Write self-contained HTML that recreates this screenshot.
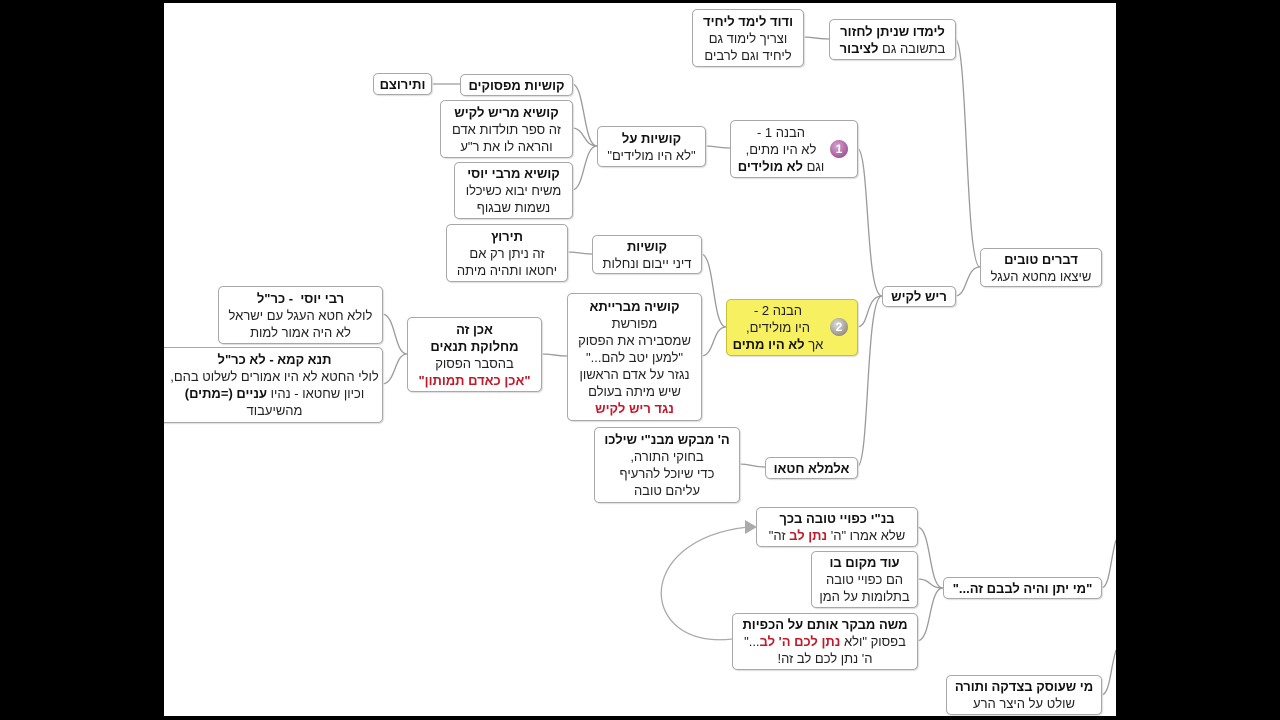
<!DOCTYPE html>
<html><head><meta charset="utf-8"><style>
body{margin:0;width:1280px;height:720px;background:#000;overflow:hidden;position:relative;font-family:"Liberation Sans","DejaVu Sans",sans-serif;}
#c{position:absolute;left:164px;top:3px;width:952px;height:713px;background:#fff;overflow:hidden}
.b{position:absolute;box-sizing:border-box;border:1.5px solid #a8a8a8;border-radius:5px;background:#fff;direction:rtl;text-align:center;font-size:13px;line-height:17px;color:#222;display:flex;flex-direction:column;justify-content:center;box-shadow:1px 1px 1px #ddd;white-space:nowrap}
b{font-weight:bold;color:#111}
.r{color:#c0192a;font-weight:bold}
svg{position:absolute;left:0;top:0}
.num{position:absolute;width:18px;height:18px;border-radius:50%;color:#fff;font-size:12px;font-weight:bold;line-height:18px;text-align:center}
</style></head><body>
<div id="c">
<svg width="952" height="713" viewBox="164 3 952 713" fill="none" stroke="#9a9a9a" stroke-width="1.3">
<path d="M980 267 C965 267 968 39 955 39"/>
<path d="M980 267 C965 267 968 296 955 296"/>
<path d="M829 39 C815 39 815 37 803 37"/>
<path d="M882 296 C865 296 870 148 857 148"/>
<path d="M882 296 C865 296 870 327 857 327"/>
<path d="M882 296 C865 296 870 467 857 467"/>
<path d="M730 148 C717 148 717 146 705 146"/>
<path d="M597 146 C583 146 585 84 572 84"/>
<path d="M597 146 C583 146 585 128 572 128"/>
<path d="M597 146 C583 146 585 190 572 190"/>
<path d="M460 84 L431 84"/>
<path d="M726 327 C712 327 715 254 701 254"/>
<path d="M726 327 C712 327 715 356 701 356"/>
<path d="M592 254 C580 254 580 252 567 252"/>
<path d="M567 356 C555 356 555 354 541 354"/>
<path d="M407 354 C394 354 396 314 382 314"/>
<path d="M407 354 C394 354 396 384 382 384"/>
<path d="M765 467 C752 467 752 464 739 464"/>
<path d="M943 588 C928 588 932 527 917 527"/>
<path d="M943 588 C928 588 932 579 917 579"/>
<path d="M943 588 C928 588 932 641 917 641"/>
<path d="M1101 588 C1110 588 1110 560 1116 540"/>
<path d="M1101 695 C1110 695 1110 670 1116 650"/>
<path d="M732 639 C640 650 630 540 748 527" stroke="#aaa"/>
<path d="M757 527 L745 520 L745 534 Z" fill="#aaa" stroke="none"/>
</svg>

<div class="b" style="left:528px;top:6px;width:112px;height:58px"><b>ודוד לימד ליחיד</b><span>וצריך לימוד גם</span><span>ליחיד וגם לרבים</span></div>
<div class="b" style="left:665px;top:16px;width:127px;height:41px"><b>לימדו שניתן לחזור</b><span>בתשובה גם <b>לציבור</b></span></div>
<div class="b" style="left:816px;top:245px;width:122px;height:39px"><b>דברים טובים</b><span>שיצאו מחטא העגל</span></div>
<div class="b" style="left:718px;top:283px;width:74px;height:21px"><b>ריש לקיש</b></div>
<div class="b" style="left:566px;top:117px;width:128px;height:58px;padding-right:26px"><span>הבנה 1 -</span><span>לא היו מתים,</span><span>וגם <b>לא מולידים</b></span></div>
<div class="num" style="left:666px;top:137px;background:radial-gradient(circle at 40% 35%,#d9a3d0,#8a3c82)">1</div>
<div class="b" style="left:433px;top:123px;width:109px;height:41px"><b>קושיות על</b><span>"לא היו מולידים"</span></div>
<div class="b" style="left:296px;top:71px;width:113px;height:22px"><b>קושיות מפסוקים</b></div>
<div class="b" style="left:209px;top:70px;width:59px;height:22px"><b>ותירוצם</b></div>
<div class="b" style="left:276px;top:97px;width:133px;height:58px"><b>קושיא מריש לקיש</b><span>זה ספר תולדות אדם</span><span>והראה לו את ר"ע</span></div>
<div class="b" style="left:290px;top:159px;width:119px;height:57px"><b>קושיא מרבי יוסי</b><span>משיח יבוא כשיכלו</span><span>נשמות שבגוף</span></div>
<div class="b" style="left:282px;top:221px;width:122px;height:58px"><b>תירוץ</b><span>זה ניתן רק אם</span><span>יחטאו ותהיה מיתה</span></div>
<div class="b" style="left:428px;top:232px;width:110px;height:39px"><b>קושיות</b><span>דיני ייבום ונחלות</span></div>
<div class="b" style="left:562px;top:296px;width:132px;height:57px;background:#f7f060;border-color:#c8be3a;padding-right:28px"><span>הבנה 2 -</span><span>היו מולידים,</span><span>אך <b>לא היו מתים</b></span></div>
<div class="num" style="left:666px;top:315px;background:radial-gradient(circle at 40% 35%,#ddd,#7d7460)">2</div>
<div class="b" style="left:403px;top:290px;width:135px;height:128px"><b>קושיה מברייתא</b><span>מפורשת</span><span>שמסבירה את הפסוק</span><span>"למען יטב להם..."</span><span>נגזר על אדם הראשון</span><span>שיש מיתה בעולם</span><span class="r">נגד ריש לקיש</span></div>
<div class="b" style="left:243px;top:314px;width:135px;height:75px"><b>אכן זה</b><b>מחלוקת תנאים</b><span>בהסבר הפסוק</span><span class="r">"אכן כאדם תמותון"</span></div>
<div class="b" style="left:54px;top:283px;width:165px;height:58px"><b>רבי יוסי&nbsp; - כר"ל</b><span>לולא חטא העגל עם ישראל</span><span>לא היה אמור למות</span></div>
<div class="b" style="left:-10px;top:344px;width:229px;height:76px;padding-left:12px"><b>תנא קמא - לא כר"ל</b><span>לולי החטא לא היו אמורים לשלוט בהם,</span><span>וכיון שחטאו - נהיו <b>עניים (=מתים)</b></span><span>מהשיעבוד</span></div>
<div class="b" style="left:430px;top:424px;width:146px;height:76px"><b>ה' מבקש מבנ"י שילכו</b><span>בחוקי התורה,</span><span>כדי שיוכל להרעיף</span><span>עליהם טובה</span></div>
<div class="b" style="left:601px;top:454px;width:93px;height:22px"><b>אלמלא חטאו</b></div>
<div class="b" style="left:592px;top:504px;width:162px;height:40px"><b>בנ"י כפויי טובה בכך</b><span>שלא אמרו "ה' <span class="r">נתן לב</span> זה"</span></div>
<div class="b" style="left:647px;top:548px;width:107px;height:57px"><b>עוד מקום בו</b><span>הם כפויי טובה</span><span>בתלומות על המן</span></div>
<div class="b" style="left:568px;top:610px;width:186px;height:57px"><b>משה מבקר אותם על הכפיות</b><span>בפסוק "ולא <span class="r">נתן לכם ה' לב</span>..."</span><span>ה' נתן לכם לב זה!</span></div>
<div class="b" style="left:779px;top:574px;width:159px;height:22px"><b>"מי יתן והיה לבבם זה..."</b></div>
<div class="b" style="left:782px;top:672px;width:156px;height:40px"><b>מי שעוסק בצדקה ותורה</b><span>שולט על היצר הרע</span></div>
</div>
</body></html>
